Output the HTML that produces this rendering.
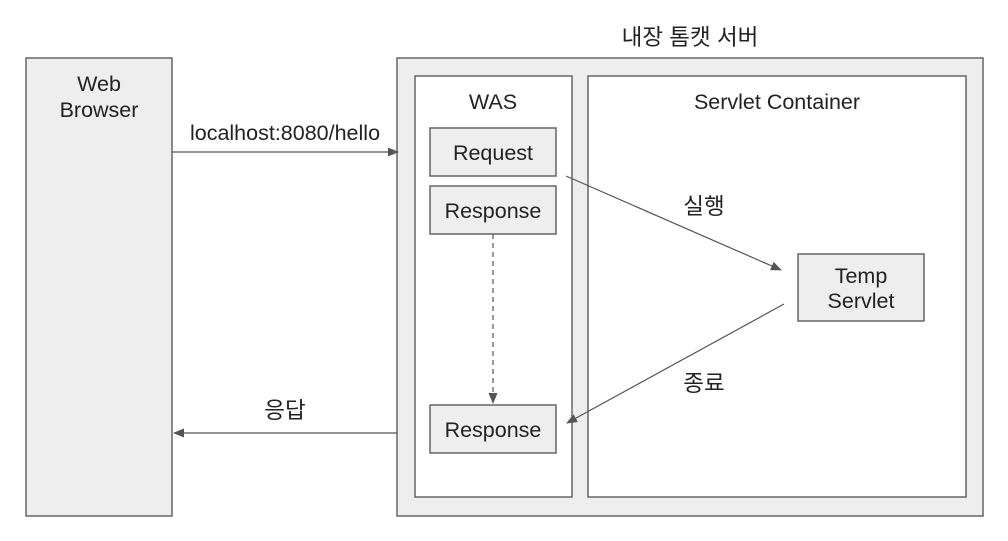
<!DOCTYPE html>
<html><head><meta charset="utf-8"><style>
html,body{margin:0;padding:0;background:#fff;width:1008px;height:541px;overflow:hidden}
text{font-family:"Liberation Sans","Noto Sans CJK KR",sans-serif;font-size:21.5px;fill:#222}
text.k{font-size:22.5px}
</style></head><body>
<svg width="1008" height="541" viewBox="0 0 1008 541" xmlns="http://www.w3.org/2000/svg">
<defs>
<marker id="a" markerWidth="11" markerHeight="9" refX="10" refY="4.5" orient="auto" markerUnits="userSpaceOnUse">
<path d="M0,0 L11,4.5 L0,9 Z" fill="#555"/></marker>
</defs>
<g stroke="#666" stroke-width="1.5">
<rect x="26" y="58" width="146" height="458" fill="#eeeeee"/>
<rect x="397" y="58" width="586" height="458" fill="#eeeeee"/>
<rect x="415" y="76" width="157" height="421" fill="#fff"/>
<rect x="588" y="76" width="378" height="421" fill="#fff"/>
<rect x="430" y="128" width="126" height="48" fill="#eeeeee"/>
<rect x="430" y="186" width="126" height="48" fill="#eeeeee"/>
<rect x="430" y="405" width="126" height="48" fill="#eeeeee"/>
<rect x="798" y="254" width="126" height="67" fill="#eeeeee"/>
</g>
<g stroke="#555" stroke-width="1.2" fill="none">
<line x1="172" y1="152" x2="398" y2="152" marker-end="url(#a)"/>
<line x1="397" y1="433" x2="174" y2="433" marker-end="url(#a)"/>
<line x1="566" y1="176" x2="781" y2="270" marker-end="url(#a)"/>
<line x1="784" y1="304" x2="567" y2="423" marker-end="url(#a)"/>
<line x1="493" y1="234" x2="493" y2="403" stroke-dasharray="5,4" marker-end="url(#a)"/>
</g>
<g text-anchor="middle">
<text x="99" y="91">Web</text>
<text x="99" y="117">Browser</text>
<text x="285" y="140">localhost:8080/hello</text>
<text class="k" x="690" y="45">내장 톰캣 서버</text>
<text x="493" y="109">WAS</text>
<text x="777" y="109">Servlet Container</text>
<text x="493" y="160">Request</text>
<text x="493" y="218">Response</text>
<text x="493" y="437">Response</text>
<text x="861" y="283">Temp</text>
<text x="861" y="308">Servlet</text>
<text class="k" x="704" y="214">실행</text>
<text class="k" x="704" y="391">종료</text>
<text class="k" x="285" y="418">응답</text>
</g>
</svg>
</body></html>
